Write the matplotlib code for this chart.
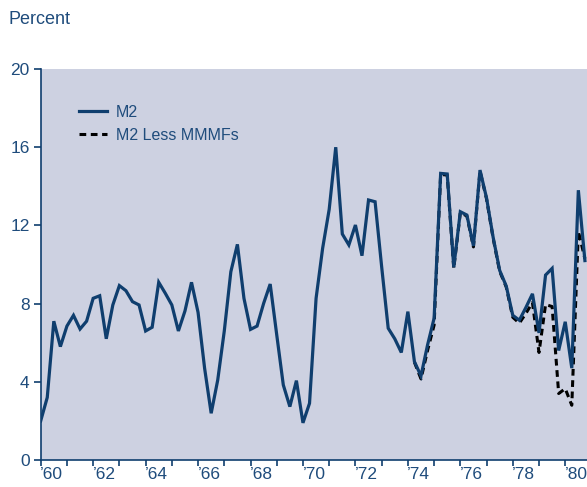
import numpy as np
import matplotlib.pyplot as plt
from matplotlib.ticker import FixedLocator, NullFormatter

# quarterly data, 1960Q1 onward (percent)
START_YEAR = 1960
M2 = [
    2.0, 3.2, 7.1, 5.8, 6.85, 7.4, 6.7, 7.1, 8.27, 8.4,
    6.2, 7.93, 8.92, 8.66, 8.1, 7.93, 6.6, 6.79, 9.09, 8.53,
    7.93, 6.6, 7.62, 9.09, 7.55, 4.69, 2.39, 4.09, 6.6, 9.63,
    11.03, 8.27, 6.68, 6.85, 8.01, 9.0, 6.4, 3.84, 2.73, 4.06,
    1.9, 2.9, 8.27, 10.83, 12.82, 16.0, 11.56, 11.0, 12.02, 10.45,
    13.3, 13.21, 9.89, 6.74, 6.2, 5.5, 7.59, 5.03, 4.3, 5.88,
    7.25, 14.66, 14.63, 9.86, 12.7, 12.53, 10.95, 14.83, 13.4, 11.4,
    9.7, 8.9, 7.4, 7.15, 7.8, 8.5, 6.5, 9.46, 9.8, 5.6,
    7.07, 4.7, 13.8, 10.2,
]
M2_LESS_MMMF = [np.nan] * 57 + [
    5.0, 4.15, 5.6, 6.9,
    14.6, 14.58, 9.8, 12.65, 12.48, 10.9, 14.78, 13.35, 11.35, 9.65,
    8.85, 7.3, 7.0, 7.5, 8.05, 5.5, 7.95, 7.85, 3.4, 3.65,
    2.8, 11.7, 10.3,
]
Y_TICKS = [0, 4, 8, 12, 16, 20]
X_LABEL_YEARS = list(range(1960, 1981, 2))

NAVY = "#0f3e6e"
TEXT = "#1f4c7c"
BG = "#cdd1e1"

plt.rcParams["font.family"] = ["Liberation Sans", "DejaVu Sans"]

t = START_YEAR + 0.25 * np.arange(len(M2))
t2 = START_YEAR + 0.25 * np.arange(len(M2_LESS_MMMF))

fig = plt.figure(figsize=(5.87, 4.87), dpi=100)
ax = fig.add_axes([40.7 / 587, 27 / 487, 1 - 40.7 / 587, 391 / 487])
ax.set_facecolor(BG)

ax.plot(t2, M2_LESS_MMMF, color="black", lw=2.2, dashes=(2.2, 1.5),
        label="M2 Less MMMFs", zorder=2)
ax.plot(t, M2, color=NAVY, lw=2.3, label="M2", zorder=3,
        solid_joinstyle="miter")

ax.set_ylim(0, 20)
ax.set_xlim(1960, 1980.83)
ax.set_yticks(Y_TICKS)
ax.set_yticklabels([str(v) for v in Y_TICKS])

# year ticks at year boundaries, labels centred in every other year
ax.xaxis.set_major_locator(FixedLocator(range(1960, 1981)))
ax.xaxis.set_major_formatter(NullFormatter())
ax.xaxis.set_minor_locator(FixedLocator([y + 0.42 for y in X_LABEL_YEARS]))
ax.set_xticklabels(["\u2019" + str(y)[2:] for y in X_LABEL_YEARS], minor=True)

for s in ["top", "right"]:
    ax.spines[s].set_visible(False)
for s in ["left", "bottom"]:
    ax.spines[s].set_color(NAVY)
    ax.spines[s].set_linewidth(1.2)

ax.tick_params(axis="y", which="major", length=5, width=1.2, color=NAVY,
               labelcolor=TEXT, labelsize=12.5, pad=3)
ax.tick_params(axis="x", which="major", length=4, width=1.2, color=NAVY)
ax.tick_params(axis="x", which="minor", length=0, labelcolor=TEXT,
               labelsize=12.5, pad=5)

handles, labels = ax.get_legend_handles_labels()
leg = ax.legend(handles[::-1], labels[::-1], loc="upper left",
                bbox_to_anchor=(0.043, 0.945), frameon=False, fontsize=11.5,
                handlelength=1.75, handletextpad=0.6, labelspacing=0.5)
for txt in leg.get_texts():
    txt.set_color(TEXT)

fig.text(8 / 587, 1 - 20 / 487, "Percent", color=TEXT, fontsize=13,
         va="center", ha="left")

fig.savefig("out.png", dpi=100)
